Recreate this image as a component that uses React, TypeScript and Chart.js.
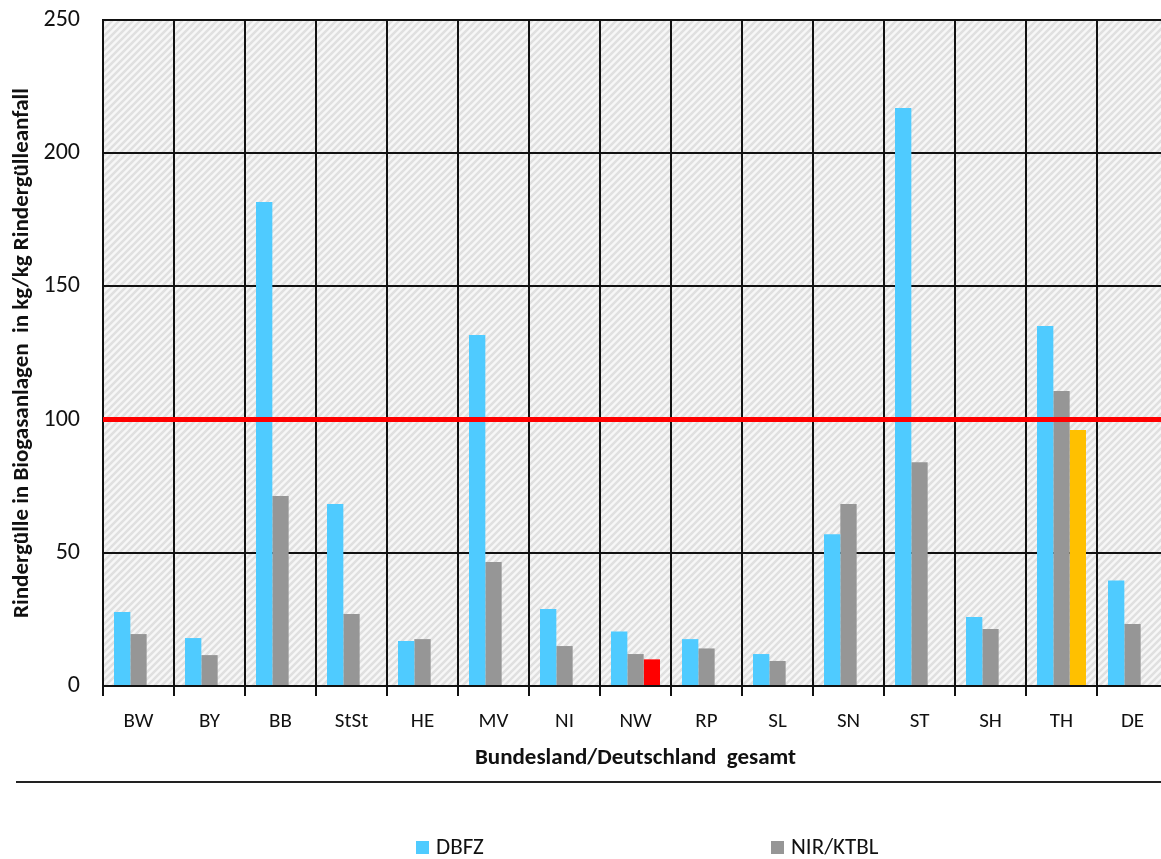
import React, { useEffect, useRef } from "react";
import { Chart, registerables } from "chart.js";

Chart.register(...registerables);

// ---- data ----
const categories = ["BW", "BY", "BB", "StSt", "HE", "MV", "NI", "NW", "RP", "SL", "SN", "ST", "SH", "TH", "DE"];
const dbfzValues = [27.8, 18, 181.7, 68.3, 16.9, 131.8, 28.9, 20.5, 17.6, 12, 57, 217, 25.9, 135.1, 39.6];
const nirKtblValues = [19.5, 11.6, 71.3, 27, 17.6, 46.5, 15, 12, 14.1, 9.4, 68.3, 84, 21.4, 110.7, 23.3];
const extraValues = [null, null, null, null, null, null, null, 10, null, null, null, null, null, 96.1, null];
const extraColors = ["#FF0000", "#FF0000", "#FF0000", "#FF0000", "#FF0000", "#FF0000", "#FF0000", "#FF0000", "#FF0000", "#FF0000", "#FF0000", "#FF0000", "#FF0000", "#FFC000", "#FF0000"];
const yTickValues = [0, 50, 100, 150, 200, 250];
const referenceLevel = 100;

const seriesLabels = ["DBFZ", "NIR/KTBL", "Sonderwert"];
const seriesColors = ["#4FCBFF", "#969696"];

const FONT = "Carlito, Lato, 'Liberation Sans', sans-serif";
const INK = "#111111";

function makeHatch(): CanvasPattern | string {
  const s = 7;
  const c = document.createElement("canvas");
  c.width = s;
  c.height = s;
  const g = c.getContext("2d");
  if (!g) return "#eeeeee";
  g.fillStyle = "#f7f7f7";
  g.fillRect(0, 0, s, s);
  g.strokeStyle = "#e0e0e0";
  g.lineWidth = 2.5;
  g.beginPath();
  g.moveTo(-1, 1);
  g.lineTo(1, -1);
  g.moveTo(0, s);
  g.lineTo(s, 0);
  g.moveTo(s - 1, s + 1);
  g.lineTo(s + 1, s - 1);
  g.stroke();
  return g.createPattern(c, "repeat") || "#eeeeee";
}

const backgroundPlugin = {
  id: "hatchBackground",
  beforeDraw(chart: any) {
    const { ctx, chartArea, width, height } = chart;
    ctx.save();
    ctx.fillStyle = "#ffffff";
    ctx.fillRect(0, 0, width, height);
    ctx.fillStyle = makeHatch();
    ctx.fillRect(chartArea.left, chartArea.top, chartArea.right - chartArea.left, chartArea.bottom - chartArea.top);
    ctx.restore();
  },
};

const referenceLinePlugin = {
  id: "referenceLine",
  afterDatasetsDraw(chart: any) {
    const { ctx, chartArea, scales } = chart;
    const y = scales.y.getPixelForValue(referenceLevel);
    ctx.save();
    ctx.strokeStyle = "#FF0000";
    ctx.lineWidth = 5;
    ctx.beginPath();
    ctx.moveTo(chartArea.left, y);
    ctx.lineTo(chartArea.right, y);
    ctx.stroke();
    ctx.restore();
  },
};

const legendPlugin = {
  id: "customLegend",
  afterDraw(chart: any) {
    const { ctx } = chart;
    ctx.save();
    // separator line
    ctx.strokeStyle = "#222222";
    ctx.lineWidth = 2;
    ctx.beginPath();
    ctx.moveTo(16, 782);
    ctx.lineTo(chart.width, 782);
    ctx.stroke();
    // legend items
    const items = [
      { x: 416, label: chart.data.datasets[0].label, color: chart.data.datasets[0].backgroundColor },
      { x: 771, label: chart.data.datasets[1].label, color: chart.data.datasets[1].backgroundColor },
    ];
    ctx.font = "23px " + FONT;
    ctx.textBaseline = "middle";
    ctx.textAlign = "left";
    for (const it of items) {
      ctx.fillStyle = it.color;
      ctx.fillRect(it.x, 841, 13, 13);
      ctx.fillStyle = INK;
      ctx.fillText(it.label, it.x + 20, 848);
    }
    ctx.restore();
  },
};

export default function App() {
  const ref = useRef<HTMLCanvasElement>(null);

  useEffect(() => {
    if (!ref.current) return;
    const chart = new Chart(ref.current, {
      type: "bar",
      data: {
        labels: categories,
        datasets: [
          { label: seriesLabels[0], data: dbfzValues, backgroundColor: seriesColors[0], borderWidth: 0 },
          { label: seriesLabels[1], data: nirKtblValues, backgroundColor: seriesColors[1], borderWidth: 0 },
          { label: seriesLabels[2], data: extraValues as any, backgroundColor: extraColors, borderWidth: 0 },
        ],
      },
      options: {
        responsive: false,
        animation: false,
        devicePixelRatio: 1,
        layout: { padding: { left: 0, right: 0, top: 20, bottom: 83 } },
        datasets: { bar: { categoryPercentage: 0.69, barPercentage: 1.0 } },
        plugins: {
          legend: { display: false },
          tooltip: { enabled: false },
        },
        scales: {
          x: {
            offset: true,
            grid: {
              display: true,
              offset: true,
              color: INK,
              lineWidth: 2,
              tickLength: 10,
              drawOnChartArea: true,
            },
            border: { display: true, color: INK, width: 2 },
            ticks: {
              color: INK,
              font: { family: FONT, size: 21 },
              padding: 13,
              maxRotation: 0,
              autoSkip: false,
            },
            title: {
              display: true,
              text: "Bundesland/Deutschland  gesamt",
              color: INK,
              font: { family: FONT, size: 23, weight: "bold" },
              padding: { top: 0, bottom: 4 },
            },
            afterFit(scale: any) {
              scale.height = 90;
              scale.paddingLeft = 0;
              scale.paddingRight = 0;
            },
          },
          y: {
            min: 0,
            max: 250,
            afterBuildTicks(scale: any) {
              scale.ticks = yTickValues.map((v) => ({ value: v }));
            },
            grid: { color: INK, lineWidth: 2, drawTicks: false },
            border: { display: true, color: INK, width: 2 },
            ticks: {
              color: INK,
              font: { family: FONT, size: 24 },
              padding: 23,
            },
            title: {
              display: true,
              text: "Rindergülle in Biogasanlagen  in kg/kg Rindergülleanfall",
              color: INK,
              font: { family: FONT, size: 23, weight: "bold" },
              padding: { top: 8, bottom: 0 },
            },
            afterFit(scale: any) {
              scale.width = 103;
              scale.paddingTop = 0;
              scale.paddingBottom = 0;
            },
          },
        },
      },
      plugins: [backgroundPlugin, referenceLinePlugin, legendPlugin],
    } as any);
    return () => chart.destroy();
  }, []);

  return (
    <div
      style={{
        position: "fixed",
        left: 0,
        top: 0,
        width: 1161,
        height: 859,
        overflow: "hidden",
        background: "#ffffff",
      }}
    >
      <canvas ref={ref} width={1168} height={859} style={{ display: "block", width: 1168, height: 859 }} />
    </div>
  );
}
